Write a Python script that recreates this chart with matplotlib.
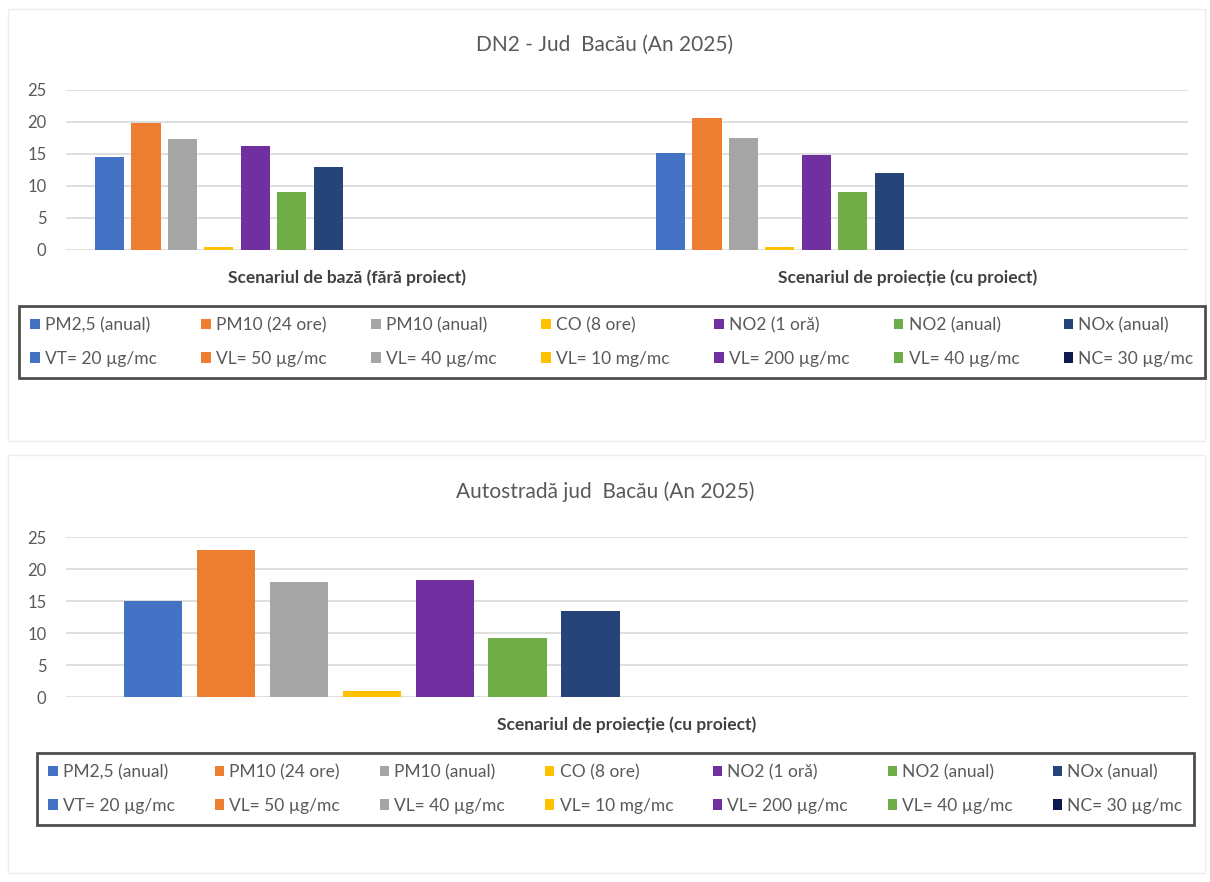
import numpy as np
import matplotlib
matplotlib.use("Agg")
import matplotlib.pyplot as plt
from matplotlib.patches import Rectangle

plt.rcParams["font.family"] = ["Lato", "DejaVu Sans"]

pollutants = ["PM2,5 (anual)", "PM10 (24 ore)", "PM10 (anual)", "CO (8 ore)",
              "NO2 (1 oră)", "NO2 (anual)", "NOx (anual)"]
limits = ["VT= 20 µg/mc", "VL= 50 µg/mc", "VL= 40 µg/mc", "VL= 10 mg/mc",
          "VL= 200 µg/mc", "VL= 40 µg/mc", "NC= 30 µg/mc"]
poll_colors = ["#4472C4", "#ED7D31", "#A5A5A5", "#FFC000", "#7030A0", "#70AD47", "#264478"]
limit_colors = ["#4472C4", "#ED7D31", "#A5A5A5", "#FFC000", "#7030A0", "#70AD47", "#0E1A4F"]

# DN2 - Jud Bacău
dn2_categories = ["Scenariul de bază (fără proiect)", "Scenariul de proiecție (cu proiect)"]
dn2_base = [14.6, 19.8, 17.4, 0.4, 16.2, 9.0, 12.9]
dn2_proj = [15.1, 20.6, 17.5, 0.4, 14.9, 9.0, 12.1]

# Autostradă jud Bacău
auto_categories = ["Scenariul de proiecție (cu proiect)"]
auto_proj = [15.0, 22.9, 17.9, 0.9, 18.3, 9.2, 13.5]

GRAY = "#595959"
PITCH = 0.065
WIDTH = 0.052


def draw_chart(fig, rect, title, title_y, categories, values, legend_box):
    ax = fig.add_axes(rect)
    n = len(categories)
    x = np.arange(n)
    handles = []
    for i in range(14):
        if i < 7:
            h = [values[c][i] for c in range(n)]
            color, label = poll_colors[i], pollutants[i]
        else:
            h = [np.nan] * n
            color, label = limit_colors[i - 7], limits[i - 7]
        bc = ax.bar(x + (i - 6.5) * PITCH, h, WIDTH, color=color, label=label, zorder=3)
        handles.append(bc)
    ax.set_xlim(-0.5, n - 0.5)
    ax.set_ylim(0, 25)
    ax.set_yticks([0, 5, 10, 15, 20, 25])
    ax.grid(axis="y", color="#D9D9D9", linewidth=1.2, zorder=0)
    ax.set_axisbelow(True)
    for s in ax.spines.values():
        s.set_visible(False)
    ax.tick_params(axis="y", length=0, labelsize=12, labelcolor=GRAY, pad=14)
    ax.set_xticks(x)
    ax.set_xticklabels(categories, fontsize=12.5, fontweight="bold", color="#404040")
    ax.tick_params(axis="x", length=0, pad=14)
    fig.text(0.5, title_y, title, ha="center", va="center", fontsize=15, color=GRAY)

    # legend: row 1 pollutants, row 2 limit values
    order = []
    for i in range(7):
        order += [handles[i], handles[i + 7]]
    labels = [h.get_label() for h in order]
    leg = fig.legend(order, labels, ncol=7, loc="upper left", mode="expand",
                     bbox_to_anchor=legend_box, fontsize=12.5, labelcolor=GRAY,
                     frameon=True, fancybox=False, edgecolor="#222222",
                     handlelength=0.55, handleheight=0.55, handletextpad=0.3,
                     labelspacing=1.0, borderpad=0.65, columnspacing=0.8,
                     borderaxespad=0)
    leg.get_frame().set_linewidth(2)
    return ax


fig = plt.figure(figsize=(12.1, 8.82), dpi=100)

# faint chart-area outlines
fig.add_artist(Rectangle((0.007, 0.50), 0.989, 0.49, transform=fig.transFigure,
                         fill=False, edgecolor="#EEEEEE", linewidth=1))
fig.add_artist(Rectangle((0.007, 0.01), 0.989, 0.474, transform=fig.transFigure,
                         fill=False, edgecolor="#EEEEEE", linewidth=1))

W, H = 1210, 882
draw_chart(fig, [66 / W, 1 - 250 / H, 1122 / W, 160 / H],
           "DN2 - Jud  Bacău (An 2025)", 1 - 45 / H,
           dn2_categories, [dn2_base, dn2_proj],
           (19 / W, 1 - 380 / H, 1186 / W, 74 / H))
draw_chart(fig, [66 / W, 1 - 697 / H, 1122 / W, 160 / H],
           "Autostradă jud  Bacău (An 2025)", 1 - 492 / H,
           auto_categories, [auto_proj],
           (37 / W, 1 - 822 / H, 1157 / W, 69 / H))

fig.savefig("out.png", dpi=100, facecolor="white")
plt.close(fig)
